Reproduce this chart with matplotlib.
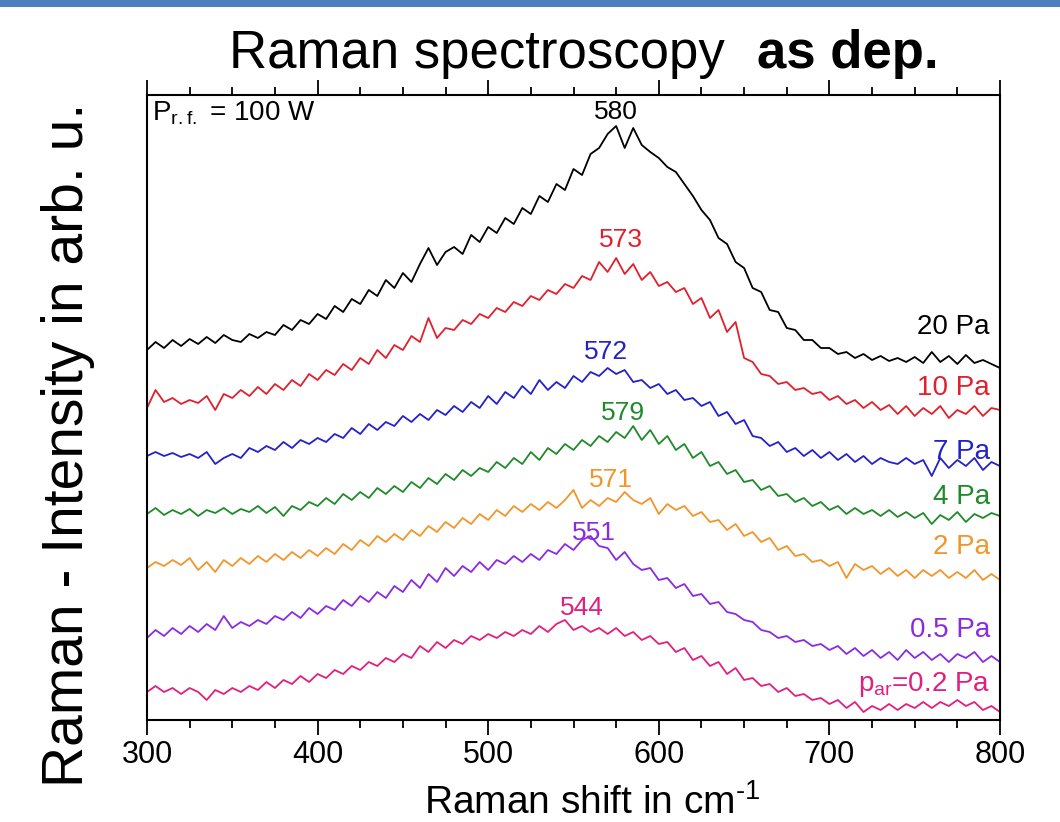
import numpy as np
import matplotlib
matplotlib.use("Agg")
from matplotlib import pyplot as plt
from matplotlib.ticker import MultipleLocator
from matplotlib.patches import Rectangle

plt.rcParams['font.family'] = ['Liberation Sans', 'DejaVu Sans']
plt.rcParams['mathtext.fontset'] = 'custom'
plt.rcParams['mathtext.rm'] = 'Liberation Sans'

# Raman shift grid (cm^-1), one sample every 5 cm^-1
shift = np.arange(300, 805, 5)

# intensities (arb. u., stacked as drawn)
i_20pa = [370, 378, 372, 380, 374, 381, 376, 383, 377, 385, 380, 378, 386, 382, 388, 385, 395, 390, 400, 396,
          406, 401, 414, 408, 421, 416, 430, 424, 440, 432, 447, 438, 456, 472, 455, 468, 473, 466, 485, 478,
          493, 487, 502, 496, 512, 506, 524, 518, 536, 530, 551, 545, 566, 572, 586, 594, 572, 592, 575, 568,
          562, 553, 548, 536, 524, 510, 500, 482, 476, 458, 452, 432, 428, 410, 408, 392, 390, 380, 380, 372,
          372, 366, 368, 362, 366, 360, 364, 359, 362, 358, 363, 357, 368, 358, 364, 356, 365, 357, 360, 356,
          352]
i_10pa = [312, 330, 318, 322, 316, 320, 317, 324, 310, 326, 322, 330, 324, 333, 326, 336, 330, 340, 334, 346,
          340, 350, 345, 356, 350, 362, 356, 370, 362, 375, 370, 384, 378, 402, 382, 392, 390, 400, 396, 406,
          402, 412, 408, 418, 414, 424, 420, 430, 426, 436, 432, 444, 440, 458, 448, 462, 446, 456, 440, 448,
          434, 438, 428, 432, 416, 422, 402, 410, 388, 398, 362, 358, 346, 344, 336, 338, 330, 332, 326, 328,
          320, 324, 316, 320, 312, 318, 310, 315, 306, 314, 304, 312, 306, 314, 302, 310, 306, 314, 304, 312,
          310]
i_7pa = [264, 268, 264, 267, 263, 266, 262, 268, 256, 262, 266, 262, 272, 268, 274, 270, 278, 272, 280, 276,
         282, 278, 286, 282, 292, 286, 296, 290, 298, 294, 304, 298, 306, 300, 310, 305, 314, 308, 318, 312,
         324, 316, 328, 322, 334, 326, 340, 330, 338, 332, 344, 338, 348, 344, 352, 346, 350, 338, 340, 332,
         336, 326, 330, 320, 322, 314, 318, 304, 308, 296, 300, 284, 282, 274, 278, 268, 272, 264, 270, 262,
         268, 260, 266, 258, 264, 256, 262, 258, 256, 262, 256, 260, 244, 262, 252, 260, 254, 262, 250, 258,
         254]
i_4pa = [206, 212, 205, 210, 206, 211, 204, 210, 207, 212, 206, 211, 208, 214, 207, 213, 204, 214, 210, 218,
         214, 222, 216, 226, 220, 228, 222, 232, 226, 234, 228, 238, 232, 242, 236, 246, 240, 250, 244, 252,
         248, 258, 252, 262, 256, 268, 260, 272, 266, 276, 270, 280, 274, 284, 278, 288, 282, 294, 280, 290,
         276, 284, 270, 276, 262, 268, 254, 258, 246, 250, 238, 240, 230, 234, 224, 226, 218, 222, 214, 218,
         210, 214, 206, 212, 206, 210, 204, 210, 203, 208, 202, 207, 196, 205, 200, 208, 198, 206, 202, 207,
         204]
i_2pa = [152, 158, 154, 160, 155, 162, 150, 158, 148, 160, 154, 162, 156, 164, 158, 166, 160, 168, 162, 170,
         164, 172, 166, 176, 170, 180, 174, 184, 178, 186, 180, 190, 184, 194, 188, 198, 192, 202, 196, 206,
         200, 210, 204, 214, 208, 216, 210, 218, 212, 220, 230, 212, 220, 214, 222, 218, 228, 220, 216, 222,
         206, 216, 210, 214, 204, 208, 198, 200, 190, 196, 184, 188, 178, 182, 170, 174, 164, 166, 158, 160,
         154, 158, 142, 156, 150, 154, 146, 152, 144, 150, 142, 150, 144, 150, 142, 148, 142, 150, 140, 146,
         140]
i_05pa = [82, 90, 84, 92, 86, 94, 88, 96, 90, 104, 92, 98, 94, 100, 96, 104, 100, 108, 102, 112,
          106, 114, 110, 120, 114, 124, 118, 128, 122, 134, 128, 140, 132, 146, 138, 152, 144, 154, 148, 158,
          150, 160, 156, 164, 158, 166, 160, 170, 166, 176, 170, 180, 184, 174, 172, 160, 168, 156, 150, 152,
          140, 142, 132, 136, 124, 126, 116, 118, 108, 106, 100, 98, 90, 88, 82, 84, 78, 80, 74, 76,
          70, 74, 66, 72, 64, 70, 62, 68, 60, 70, 62, 68, 60, 66, 58, 66, 62, 68, 58, 64,
          58]
i_02pa = [28, 34, 28, 32, 26, 32, 28, 20, 30, 26, 32, 28, 34, 30, 38, 32, 40, 36, 44, 38,
          46, 42, 50, 46, 54, 50, 58, 54, 62, 58, 66, 62, 74, 68, 78, 72, 80, 76, 84, 80,
          86, 82, 88, 84, 90, 86, 94, 88, 96, 100, 90, 94, 88, 92, 86, 92, 84, 88, 80, 84,
          76, 78, 68, 72, 60, 64, 54, 58, 46, 52, 40, 42, 34, 36, 28, 32, 24, 26, 20, 22,
          16, 20, 12, 18, 8, 14, 10, 16, 10, 16, 12, 18, 12, 18, 14, 20, 14, 18, 10, 14,
          8]

series = [i_20pa, i_10pa, i_7pa, i_4pa, i_2pa, i_05pa, i_02pa]
colors = ['#000000', '#e0202c', '#2222c8', '#1f8a2a', '#f0962a', '#8a2be2', '#e0207e']
labels = ['20 Pa', '10 Pa', '7 Pa', '4 Pa', '2 Pa', '0.5 Pa', r'p$_{\mathregular{ar}}$=0.2 Pa']
label_y = [393, 332, 268, 223, 173, 90, 36]
peaks = ['580', '573', '572', '579', '571', '551', '544']
peak_x = [575, 578, 569, 579, 572, 562, 555]
peak_y = [608, 480, 368, 307, 240, 187, 112]

W, H = 1060, 822
fig = plt.figure(figsize=(W / 100, H / 100), dpi=100)
fig.add_artist(Rectangle((0, 1 - 7 / H), 1, 7 / H, transform=fig.transFigure,
                         facecolor='#4f7fbd', edgecolor='none'))
ax = fig.add_axes([147 / W, 1 - 720 / H, 853 / W, 625 / H])

for vals, c in zip(series, colors):
    ax.plot(shift, vals, color=c, lw=1.3)

for lab, ly, c in zip(labels, label_y, colors):
    ax.text(794, ly, lab, color=c, fontsize=20, ha='right', va='center')
for p, px, py, c in zip(peaks, peak_x, peak_y, colors):
    ax.text(px, py, p, color=c, fontsize=19, ha='center', va='center')

ax.text(303, 607, r'P$_{\mathregular{r.f.}}$ = 100 W', fontsize=20, ha='left', va='center')

ax.set_xlim(300, 800)
ax.set_ylim(0, 625)
ax.xaxis.set_major_locator(MultipleLocator(100))
ax.xaxis.set_minor_locator(MultipleLocator(25))
ax.tick_params(axis='x', which='both', top=True, direction='out', width=1.3, labelsize=22)
ax.tick_params(axis='x', which='major', length=11)
ax.tick_params(axis='x', which='minor', length=6)
ax.set_yticks([])
for s in ax.spines.values():
    s.set_linewidth(1.5)

ax.set_xlabel('Raman shift in cm$^{\\mathregular{\u20101}}$', fontsize=28)
ax.xaxis.set_label_coords(0.522, -0.102)
fig.text(68 / W, 1 - 445 / H, 'Raman - Intensity in arb. u.', rotation=90,
         fontsize=41, ha='center', va='center')

fig.text(725 / W, 1 - 68 / H, 'Raman spectroscopy', fontsize=38, ha='right', va='baseline')
fig.text(757 / W, 1 - 68 / H, 'as dep.', fontsize=38, fontweight='bold', ha='left', va='baseline')

fig.savefig('out.png', dpi=100)
